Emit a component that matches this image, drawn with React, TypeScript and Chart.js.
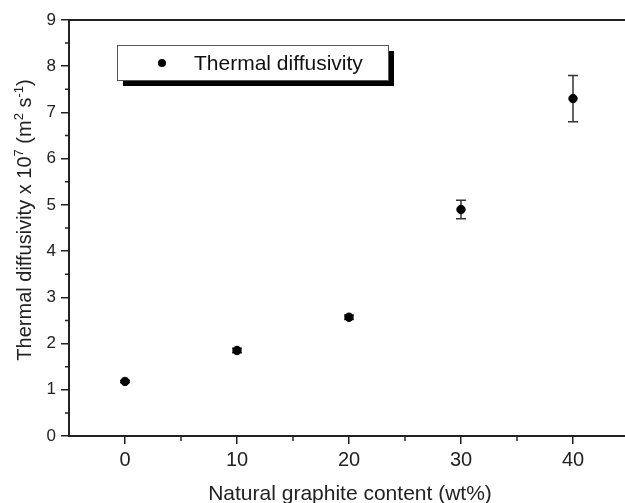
import React, { useEffect, useRef } from "react";
import { Chart, registerables } from "chart.js";

Chart.register(...registerables);

const seriesLabel = "Thermal diffusivity";
const graphiteContent = [0, 10, 20, 30, 40];
const diffusivity = [1.18, 1.85, 2.57, 4.9, 7.3];
const diffusivityError = [0.02, 0.05, 0.05, 0.2, 0.5];
const xMajorTicks = [0, 10, 20, 30, 40];
const xMinorTicks = [5, 15, 25, 35];
const yMinorTicks = [0.5, 1.5, 2.5, 3.5, 4.5, 5.5, 6.5, 7.5, 8.5];
const xTitle = "Natural graphite content (wt%)";
const yTitleParts = [
  { t: "Thermal diffusivity x 10", sup: false },
  { t: "7", sup: true },
  { t: " (m", sup: false },
  { t: "2", sup: true },
  { t: " s", sup: false },
  { t: "-1", sup: true },
  { t: ")", sup: false },
];

const FONT = "Arial, 'Liberation Sans', sans-serif";
const AXIS = "#222";

const decor = {
  id: "decor",
  beforeDatasetsDraw(chart: any) {
    const { ctx } = chart;
    const xs = chart.scales.x;
    const ys = chart.scales.y;
    ctx.save();
    ctx.strokeStyle = "#333";
    ctx.lineWidth = 1.5;
    graphiteContent.forEach((xv, i) => {
      const e = diffusivityError[i];
      const px = xs.getPixelForValue(xv);
      const top = ys.getPixelForValue(diffusivity[i] + e);
      const bot = ys.getPixelForValue(diffusivity[i] - e);
      ctx.beginPath();
      ctx.moveTo(px, top);
      ctx.lineTo(px, bot);
      ctx.moveTo(px - 5, top);
      ctx.lineTo(px + 5, top);
      ctx.moveTo(px - 5, bot);
      ctx.lineTo(px + 5, bot);
      ctx.stroke();
    });
    ctx.restore();
  },
  afterDraw(chart: any) {
    const { ctx, chartArea } = chart;
    const xs = chart.scales.x;
    const ys = chart.scales.y;
    ctx.save();
    // top frame line
    ctx.strokeStyle = AXIS;
    ctx.lineWidth = 2;
    ctx.beginPath();
    ctx.moveTo(chartArea.left, chartArea.top);
    ctx.lineTo(chartArea.right, chartArea.top);
    ctx.stroke();
    // minor ticks
    ctx.lineWidth = 1.5;
    ctx.beginPath();
    xMinorTicks.forEach((v) => {
      const px = xs.getPixelForValue(v);
      ctx.moveTo(px, chartArea.bottom);
      ctx.lineTo(px, chartArea.bottom + 5);
    });
    yMinorTicks.forEach((v) => {
      const py = ys.getPixelForValue(v);
      ctx.moveTo(chartArea.left, py);
      ctx.lineTo(chartArea.left - 4, py);
    });
    ctx.stroke();

    // x title
    ctx.fillStyle = AXIS;
    ctx.font = `21px ${FONT}`;
    ctx.textAlign = "center";
    ctx.textBaseline = "alphabetic";
    ctx.fillText(xTitle, (chartArea.left + chartArea.right) / 2 + 1, 500);

    // y title with superscripts
    const base = `20px ${FONT}`;
    const sup = `13px ${FONT}`;
    let total = 0;
    const widths = yTitleParts.map((p) => {
      ctx.font = p.sup ? sup : base;
      const w = ctx.measureText(p.t).width;
      total += w;
      return w;
    });
    ctx.translate(31, (chartArea.top + chartArea.bottom) / 2 - 8);
    ctx.rotate(-Math.PI / 2);
    ctx.textAlign = "left";
    let cx = -total / 2;
    yTitleParts.forEach((p, i) => {
      ctx.font = p.sup ? sup : base;
      ctx.fillText(p.t, cx, p.sup ? -8 : 0);
      cx += widths[i];
    });
    ctx.setTransform(1, 0, 0, 1, 0, 0);

    // legend with drop shadow
    const lx = 117, ly = 45, lw = 271, lh = 35;
    ctx.fillStyle = "#000";
    ctx.fillRect(lx + 6, ly + 6, lw, lh);
    ctx.fillStyle = "#fff";
    ctx.fillRect(lx, ly, lw, lh);
    ctx.strokeStyle = "#555";
    ctx.lineWidth = 1;
    ctx.strokeRect(lx + 0.5, ly + 0.5, lw, lh);
    ctx.fillStyle = "#000";
    ctx.beginPath();
    ctx.arc(162, 63, 4, 0, Math.PI * 2);
    ctx.fill();
    ctx.fillStyle = "#111";
    ctx.font = `21px ${FONT}`;
    ctx.textAlign = "left";
    ctx.textBaseline = "middle";
    ctx.fillText(chart.data.datasets[0].label, 194, 64);
    ctx.restore();
  },
};

export default function App() {
  const ref = useRef<HTMLCanvasElement | null>(null);
  useEffect(() => {
    document.documentElement.style.overflow = "hidden";
    document.body.style.overflow = "hidden";
    const canvas = ref.current!;
    const chart = new Chart(canvas, {
      type: "scatter",
      data: {
        datasets: [
          {
            label: seriesLabel,
            data: graphiteContent.map((x, i) => ({ x, y: diffusivity[i] })),
            backgroundColor: "#000",
            borderColor: "#000",
            pointRadius: 4.2,
            pointHoverRadius: 4.2,
            showLine: false,
          },
        ],
      },
      options: {
        responsive: false,
        animation: false,
        devicePixelRatio: 1,
        layout: { padding: { top: 20, right: 11, left: 0, bottom: 0 } },
        plugins: { legend: { display: false }, tooltip: { enabled: false } },
        scales: {
          x: {
            type: "linear",
            min: -5,
            max: 45,
            afterBuildTicks: (s: any) => {
              s.ticks = xMajorTicks.map((v) => ({ value: v }));
            },
            afterFit: (s: any) => {
              s.height = 67;
            },
            grid: { display: true, drawOnChartArea: false, drawTicks: true, tickLength: 8, color: AXIS, lineWidth: 1.5 },
            border: { display: true, color: AXIS, width: 2 },
            ticks: { color: AXIS, font: { family: FONT, size: 20 }, padding: 4, maxRotation: 0 },
          },
          y: {
            type: "linear",
            min: 0,
            max: 9,
            ticks: { stepSize: 1, color: AXIS, font: { family: FONT, size: 17 }, padding: 5 },
            afterFit: (s: any) => {
              s.width = 69;
            },
            grid: { display: true, drawOnChartArea: false, drawTicks: true, tickLength: 8, color: AXIS, lineWidth: 1.5 },
            border: { display: true, color: AXIS, width: 2 },
          },
        },
      },
      plugins: [decor],
    });
    return () => chart.destroy();
  }, []);
  return (
    <div style={{ position: "fixed", left: 0, top: 0, width: 640, height: 503, background: "#fff" }}>
      <canvas ref={ref} width={640} height={503} style={{ width: 640, height: 503, display: "block" }} />
    </div>
  );
}
